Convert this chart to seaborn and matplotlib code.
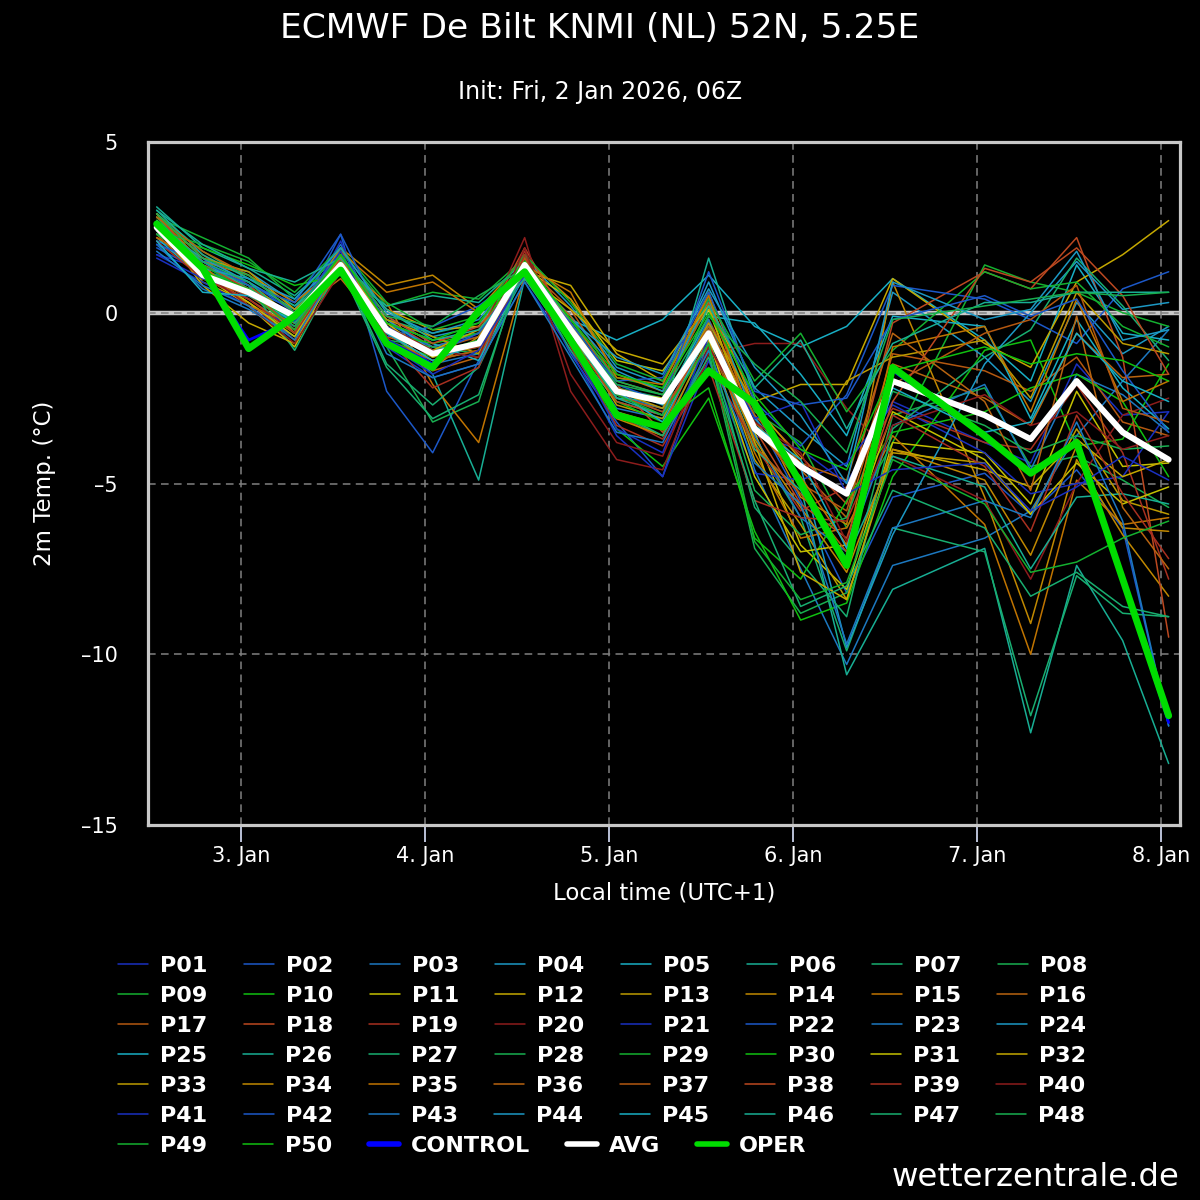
import matplotlib
matplotlib.use("Agg")
import matplotlib.pyplot as plt
import numpy as np
import pandas as pd
import seaborn as sns
from matplotlib.lines import Line2D

# ---------------- data ----------------
# hours since 2 Jan 2026 00:00 local time (UTC+1)
hours = [13, 19, 25, 31, 37, 43, 49, 55, 61, 67, 73, 79, 85, 91, 97, 103, 109,
         121, 127, 133, 139, 145]
day_ticks = [24, 48, 72, 96, 120, 144]
day_labels = ["3. Jan", "4. Jan", "5. Jan", "6. Jan", "7. Jan", "8. Jan"]
y_ticks = [-15, -10, -5, 0, 5]
y_tick_labels = ["\u201315", "\u201310", "\u20135", "0", "5"]

AVG = [2.5, 1.1, 0.6, -0.1, 1.4, -0.5, -1.2, -0.9, 1.4, -0.5, -2.3, -2.6, -0.6,
       -3.4, -4.5, -5.3, -2.0, -3.0, -3.7, -2.0, -3.5, -4.3]
OPER = [2.6, 1.3, -1.05, -0.1, 1.25, -0.9, -1.6, 0.05, 1.2, -0.8, -3.0, -3.35,
        -1.7, -2.65, -5.0, -7.4, -1.6, -3.6, -4.7, -3.8, -7.8, -11.8]
CONTROL = [2.5, 1.2, -0.8, -0.2, 1.3, -0.8, -1.5, 0.0, 1.2, -0.8, -3.0, -3.3,
           -1.7, -2.7, -5.0, -7.3, -1.7, -3.6, -4.7, -3.8, -7.8, -12.0]

P01 = [1.7, 1.3, 0.4, -0.5, 1.9, -0.4, -1.0, -0.7, 1.2, -0.6, -2.4, -2.9, -0.9, -3.6, -4.0, -5.0, -2.6, -3.8, -4.4, -1.5, -3.0, -2.9]
P02 = [2.1, 1.6, 0.5, -0.3, 2.3, -2.3, -4.1, -1.4, 1.4, -1.2, -3.2, -4.8, -0.8, -3.0, -5.5, -8.2, -5.4, -4.7, -5.9, -4.6, -6.3, -12.1]
P03 = [2.0, 1.4, 0.7, 0.1, 2.0, -0.6, -1.5, -1.2, 1.1, -0.8, -2.8, -3.1, -0.3, -4.6, -7.5, -10.3, -7.4, -6.6, -5.8, -3.6, -2.0, -0.5]
P04 = [2.4, 1.5, 1.2, 0.3, 1.6, 0.1, -0.7, -0.4, 1.6, 0.2, -1.6, -2.1, 0.9, -2.2, -3.4, -4.5, 0.6, -1.3, -2.6, 0.3, -1.2, -0.4]
P05 = [2.2, 1.0, 0.6, -0.3, 1.3, -0.3, -0.8, -0.6, 1.0, -0.2, -0.8, -0.2, 1.1, -0.4, -1.0, -0.4, 1.0, -0.8, -2.0, 1.4, -0.6, -0.8]
P06 = [3.1, 1.9, 1.3, 0.5, 1.7, -0.4, -1.8, -4.9, 1.0, -0.9, -2.6, -3.0, 1.6, -2.5, -5.1, -10.6, -8.1, -6.9, -12.3, -7.4, -9.6, -13.2]
P07 = [2.9, 1.8, 1.0, 0.2, 1.5, -0.2, -0.6, -0.3, 1.3, -0.4, -2.2, -2.5, -0.4, -3.8, -6.0, -9.9, -6.3, -7.0, -11.8, -7.7, -8.8, -8.9]
P08 = [2.6, 1.2, 0.8, -0.6, 1.2, -1.0, -3.2, -2.6, 1.7, -0.7, -3.0, -3.6, -1.1, -6.9, -8.8, -8.2, -3.0, -2.2, -4.5, -4.2, -4.9, -5.7]
P09 = [2.8, 2.2, 1.6, 0.4, 1.8, 0.2, 0.6, 0.4, 1.6, -0.3, -1.9, -2.2, 0.2, -2.9, -3.8, -6.3, -3.8, 1.4, 0.9, 0.6, 0.0, -0.4]
P10 = [2.3, 1.9, 1.4, 0.8, 1.1, -0.8, -1.3, -1.0, 1.5, -0.6, -3.4, -4.5, -2.5, -6.4, -9.0, -8.5, -4.8, -1.1, -0.8, -3.9, -3.7, -1.5]
P11 = [2.6, 1.1, 0.2, -1.0, 1.6, -0.4, -1.2, -0.9, 1.3, 0.4, -1.4, -1.7, 0.1, -3.5, -6.8, -8.1, -3.8, -4.1, -5.6, -2.3, -4.5, -4.4]
P12 = [2.7, 0.9, 0.3, -0.6, 1.5, 0.1, -0.5, -0.4, 1.2, 0.8, -1.2, -2.0, 0.3, -2.6, -2.1, -2.1, 1.0, -0.9, -1.6, 0.9, 1.7, 2.7]
P13 = [2.9, 1.4, 0.9, -0.2, 1.7, -0.6, -1.4, -1.1, 1.5, -0.5, -2.7, -3.1, -0.5, -4.3, -6.2, -8.4, -4.1, -4.4, -5.9, -3.4, -5.5, -5.9]
P14 = [2.5, 1.2, 0.6, -0.1, 1.9, 0.8, 1.1, 0.1, 1.6, 0.4, -1.8, -2.3, 0.6, -2.8, -5.4, -6.2, 0.9, -5.4, -9.1, -4.3, -6.5, -8.3]
P15 = [2.8, 1.5, 1.1, 0.3, 1.4, 0.3, -2.1, -3.8, 1.1, -0.9, -2.9, -3.3, -0.6, -4.1, -6.6, -6.3, -3.6, -6.2, -10.0, -4.9, -6.2, -6.0]
P16 = [2.3, 1.0, 0.4, -0.5, 1.2, -0.9, -1.7, -1.3, 1.3, -0.3, -2.5, -2.8, -1.0, -3.2, -4.6, -6.0, -1.5, -2.5, -3.3, -0.6, -1.9, -1.8]
P17 = [2.7, 1.7, 0.8, -0.2, 1.6, -0.7, -1.1, -0.7, 1.4, 0.1, -2.0, -2.4, 0.3, -3.3, -5.0, -5.8, -1.2, -1.7, -2.3, -1.3, -3.2, -3.6]
P18 = [2.9, 1.3, 0.5, -0.4, 1.3, -0.2, -1.0, -0.6, 1.9, -0.4, -2.1, -3.5, -0.2, -2.8, -4.2, -5.6, -0.3, 1.2, 0.7, 2.2, -1.3, -9.5]
P19 = [2.4, 1.1, 0.3, -0.8, 1.7, -0.5, -1.3, -1.0, 1.8, -0.8, -3.0, -3.7, -1.4, -3.9, -5.8, -5.1, -2.8, -3.8, -4.0, -2.1, -4.1, -7.8]
P20 = [2.2, 1.5, 0.6, -0.2, 1.5, -0.9, -1.5, -0.8, 2.2, -2.3, -4.3, -4.6, -1.2, -0.9, -0.9, -2.8, -4.2, -5.5, -7.8, -5.0, -3.0, -2.5]
P21 = [1.6, 0.9, 0.2, -0.4, 2.1, -1.0, -1.9, -1.5, 0.9, -1.1, -3.6, -4.8, -1.4, -4.7, -4.9, -4.4, -2.7, -4.1, -5.3, -5.0, -4.8, -2.9]
P22 = [1.9, 1.2, 0.9, 0.0, 1.8, -0.7, -0.4, 0.2, 1.2, -0.5, -2.0, -1.9, 0.6, -2.6, -3.9, -2.4, 0.8, 0.4, -0.2, -0.9, 0.7, 1.2]
P23 = [2.0, 0.7, 0.1, -0.7, 1.6, -0.3, -1.0, -0.6, 1.0, -0.6, -2.4, -2.8, -0.2, -3.6, -6.0, -7.0, -3.3, -2.1, -4.6, -1.8, -2.4, -3.5]
P24 = [2.5, 1.6, 0.9, 0.1, 1.4, -0.2, -1.1, -0.9, 1.3, -0.1, -1.7, -2.3, 0.4, -3.1, -4.5, -9.8, -6.5, -1.5, 0.0, 1.5, 0.1, 0.3]
P25 = [2.3, 1.5, 0.7, -0.3, 1.6, -0.1, -0.9, -1.4, 1.1, -0.8, -2.2, -2.7, -0.1, -0.3, -1.8, -3.6, -0.1, -0.4, -3.1, -0.2, -2.2, -3.4]
P26 = [3.0, 1.7, 1.0, 0.2, 1.2, 0.2, 0.5, 0.3, 1.5, -0.6, -2.5, -2.6, -0.5, -4.0, -5.2, -7.2, -4.2, -5.1, -7.5, -5.4, -5.3, -5.6]
P27 = [2.6, 1.4, 0.8, -1.1, 1.4, -1.5, -2.7, -1.6, 1.2, -1.1, -2.9, -3.4, -0.9, -5.7, -7.3, -8.9, -3.4, -1.3, -0.5, 1.6, 0.2, -1.4]
P28 = [2.8, 1.3, 0.6, -0.4, 1.5, -0.8, -1.0, -1.2, 1.4, -0.2, -2.0, -2.4, -0.7, -5.2, -6.5, -6.0, -2.3, -3.3, -4.1, -3.6, -4.0, -3.9]
P29 = [2.4, 2.0, 1.5, 0.6, 1.9, 0.3, -0.5, -0.1, 1.7, 0.3, -1.5, -2.0, 0.4, -2.0, -0.6, -2.9, -1.1, 1.2, 0.7, 0.9, -0.4, -1.0]
P30 = [2.5, 1.3, 0.5, -0.2, 1.3, -0.6, -0.9, -0.6, 1.6, -0.5, -2.6, -3.2, -2.2, -6.6, -7.8, -5.5, -3.5, -2.9, -2.2, -1.8, -2.6, -4.8]
P31 = [2.7, 1.2, 0.3, -0.7, 1.5, -0.3, -1.3, -0.8, 1.4, -0.7, -2.3, -2.5, -0.8, -4.8, -7.0, -6.8, -2.9, -4.3, -5.9, -4.4, -5.6, -5.1]
P32 = [2.6, 0.8, -0.3, -0.9, 1.6, -0.4, -1.1, -0.5, 1.1, 0.1, -1.1, -1.5, 0.2, -3.8, -7.6, -8.4, -4.0, -4.6, -5.1, -3.7, -4.8, -4.3]
P33 = [2.9, 1.6, 1.2, 0.1, 1.3, -0.2, -0.7, -1.2, 1.5, -0.3, -2.3, -2.8, -0.3, -2.7, -4.3, -2.0, -1.3, -0.8, -2.5, 0.6, -0.9, -1.2]
P34 = [2.5, 1.1, 0.7, -0.6, 1.7, -0.5, -1.6, -0.7, 1.3, -0.6, -3.1, -3.6, -0.7, -3.7, -5.7, -7.6, -4.0, -4.9, -7.1, -3.9, -6.3, -6.4]
P35 = [2.2, 1.4, 0.2, -0.3, 1.8, 0.6, 0.9, 0.0, 1.4, 0.6, -1.9, -2.1, 0.5, -3.4, -4.8, -6.8, -1.0, -0.4, -2.9, 0.4, -2.6, -2.0]
P36 = [2.8, 1.8, 1.1, 0.0, 1.0, -0.6, -1.2, -0.9, 1.2, -0.1, -2.2, -2.6, -0.4, -3.0, -4.4, -4.9, -0.6, -2.6, -5.2, -0.1, -5.7, -7.5]
P37 = [2.6, 1.0, 0.5, -0.1, 1.5, -0.8, -1.4, -1.1, 1.6, -0.4, -2.4, -2.9, -0.9, -3.9, -5.3, -7.0, -2.1, -0.6, -0.2, 0.8, -2.8, -3.2]
P38 = [2.4, 1.4, 0.7, -0.5, 1.6, -0.1, -0.9, -0.4, 1.0, -0.7, -2.6, -3.0, -0.5, -3.4, -5.6, -6.6, -2.6, 1.3, 0.9, 1.9, 0.5, -1.8]
P39 = [2.1, 1.0, 0.4, -0.6, 1.4, -0.7, -2.2, -1.6, 1.7, -1.0, -3.3, -3.9, -1.6, -5.5, -6.0, -6.1, -3.0, -4.5, -6.4, -3.0, -5.3, -7.2]
P40 = [2.5, 1.2, 0.2, -0.9, 1.2, -0.4, -1.1, -1.3, 1.9, -1.8, -3.8, -4.2, -1.0, -3.2, -4.1, -6.7, -3.3, -2.4, -3.3, -2.9, -4.0, -3.6]
P41 = [1.7, 1.0, 0.6, -0.2, 1.8, -0.9, -1.8, -1.1, 1.1, -0.9, -3.4, -4.1, -0.7, -3.1, -2.6, -5.3, -4.6, -4.4, -5.8, -5.1, -4.2, -4.9]
P42 = [2.0, 1.5, 0.8, 0.3, 2.3, -0.4, -1.2, -0.6, 1.3, -0.3, -2.1, -2.6, 1.2, -2.3, -2.7, -2.5, -0.2, 0.5, -0.1, 0.4, -1.7, -3.5]
P43 = [1.8, 0.8, 0.2, -0.8, 1.5, -1.2, -1.9, -1.5, 0.9, -1.3, -3.5, -3.8, -1.1, -4.4, -5.6, -9.7, -6.3, -5.5, -6.0, -3.2, -6.1, -12.1]
P44 = [2.4, 1.3, 1.0, 0.4, 1.9, 0.0, -0.6, -0.2, 1.4, -0.2, -1.3, -1.8, 0.7, -1.6, -3.0, -5.0, 0.9, -0.2, 0.1, 1.8, -0.8, -0.5]
P45 = [2.1, 0.6, 0.5, -0.1, 1.4, -0.6, -1.4, -0.9, 1.2, -0.5, -2.3, -3.2, -0.6, -3.3, -4.3, -6.9, -2.2, -3.5, -3.2, -0.6, -2.0, -2.6]
P46 = [3.0, 2.0, 1.3, 0.9, 1.6, 0.1, -0.8, -0.5, 1.0, -0.6, -2.5, -3.0, 0.2, -2.2, -0.8, -3.4, -0.9, 0.3, 0.3, 0.6, 0.6, 0.6]
P47 = [2.7, 1.5, 0.9, -0.3, 1.3, -1.6, -3.1, -2.4, 1.5, -0.9, -2.9, -3.6, -1.3, -5.5, -8.6, -8.0, -5.2, -6.3, -8.3, -7.6, -8.6, -8.9]
P48 = [2.9, 1.6, 1.1, 0.0, 1.7, -0.1, -0.4, 0.5, 1.3, -0.5, -2.1, -2.4, -0.1, -1.5, -2.6, -4.1, -0.2, 0.2, 0.4, 0.6, 0.5, 0.6]
P49 = [2.3, 1.4, 0.6, -0.5, 1.5, -0.5, -1.2, -0.8, 1.4, -0.4, -2.4, -3.0, -0.9, -6.7, -8.4, -7.9, -4.3, -5.6, -7.6, -7.3, -6.6, -6.1]
P50 = [2.6, 1.2, 0.7, -0.2, 1.7, -0.3, -0.8, -0.3, 1.5, -0.2, -1.8, -2.2, 0.0, -2.4, -4.0, -4.6, -1.7, -1.0, -1.5, -1.2, -1.4, -2.0]

member_values = [P01, P02, P03, P04, P05, P06, P07, P08, P09, P10,
                 P11, P12, P13, P14, P15, P16, P17, P18, P19, P20,
                 P21, P22, P23, P24, P25, P26, P27, P28, P29, P30,
                 P31, P32, P33, P34, P35, P36, P37, P38, P39, P40,
                 P41, P42, P43, P44, P45, P46, P47, P48, P49, P50]
member_names = ["P%02d" % (i + 1) for i in range(50)]

# 20-colour cycle of the members
cycle_colors = ["#1a30c0", "#1c58c8", "#1c78c0", "#1c98c4", "#18aec4",
                "#18ae94", "#18ae70", "#18ae50", "#14b030", "#10c010",
                "#c4c000", "#c4a800", "#bc9a00", "#c08800", "#c07400",
                "#b86410", "#b45810", "#bc4820", "#a83020", "#8c1c1c"]

# ---------------- figure ----------------
sns.set_theme(style="dark")
plt.rcParams["font.family"] = ["DejaVu Sans"]
plt.rcParams["axes.unicode_minus"] = False

fig = plt.figure(figsize=(12, 12), dpi=100, facecolor="black")
ax = fig.add_axes([148 / 1200, 1 - 825 / 1200, 1032 / 1200, 683 / 1200])
ax.set_facecolor("black")

rows = []
for name, vals in zip(member_names, member_values):
    for h, v in zip(hours, vals):
        rows.append((name, h, v))
df = pd.DataFrame(rows, columns=["member", "hour", "temp"])
palette = {n: cycle_colors[i % 20] for i, n in enumerate(member_names)}

sns.lineplot(data=df, x="hour", y="temp", hue="member", hue_order=member_names,
             palette=palette, linewidth=1.1, legend=False, ax=ax, zorder=2)
sns.lineplot(x=hours, y=CONTROL, color="#0000ff", linewidth=2.0, ax=ax, zorder=3)
sns.lineplot(x=hours, y=AVG, color="white", linewidth=4.3, ax=ax, zorder=4)
sns.lineplot(x=hours, y=OPER, color="#00dd00", linewidth=5.0, ax=ax, zorder=5)

ax.set_xlim(11.87, 146.48)
ax.set_ylim(-15, 5)
ax.set_xticks(day_ticks)
ax.set_xticklabels(day_labels)
ax.set_yticks(y_ticks)
ax.set_yticklabels(y_tick_labels)
ax.tick_params(axis="both", colors="white", labelsize=15)
ax.tick_params(axis="y", length=0, pad=22)
ax.tick_params(axis="x", length=12, width=1.3, color="#c8d0e8", direction="out",
               pad=3, bottom=True)
ax.set_xlabel("")
ax.set_ylabel("")

ax.axhline(0, color="#c8c8c8", linewidth=3.2, zorder=0.4)
ax.set_axisbelow(True)
ax.grid(True, color="#808080", linestyle=(0, (5, 3.5)), linewidth=1.1)

for s in ax.spines.values():
    s.set_color("#c8c8c8")
    s.set_linewidth(2.3)
    s.set_visible(True)

fig.text(664 / 1200, 1 - 893 / 1200, "Local time (UTC+1)", color="white",
         fontsize=16.5, ha="center", va="center")
fig.text(45 / 1200, 1 - 483 / 1200, "2m Temp. (°C)", color="white",
         fontsize=16.5, ha="center", va="center", rotation=90)

fig.text(0.5, 1 - 28 / 1200, "ECMWF De Bilt KNMI (NL) 52N, 5.25E", color="white",
         fontsize=24.8, ha="center", va="center")
fig.text(0.5, 1 - 92 / 1200, "Init: Fri, 2 Jan 2026, 06Z", color="white",
         fontsize=17, ha="center", va="center")
fig.text(1180 / 1200, 1 - 1178 / 1200, "wetterzentrale.de", color="white",
         fontsize=23.3, ha="right", va="center")

# ---------------- legend ----------------
entries = [(n, palette[n], 1.1) for n in member_names]
entries += [("CONTROL", "#0000ff", 4.0), ("AVG", "white", 4.0), ("OPER", "#00dd00", 4.0)]
row_y = [966, 996, 1026, 1056, 1086, 1116, 1146]
for r, yy in enumerate(row_y):
    chunk = entries[r * 8:(r + 1) * 8]
    if not chunk:
        continue
    handles = [Line2D([0], [0], color=c, lw=w) for _, c, w in chunk]
    labels = [n for n, _, _ in chunk]
    fig.legend(handles, labels, ncol=len(chunk), loc="center left",
               bbox_to_anchor=(118 / 1200, 1 - yy / 1200), frameon=False,
               prop={"weight": "bold", "size": 16}, labelcolor="white",
               handlelength=1.35, handletextpad=0.54, columnspacing=1.64,
               borderpad=0, borderaxespad=0)

fig.savefig("out.png", dpi=100, facecolor="black")
